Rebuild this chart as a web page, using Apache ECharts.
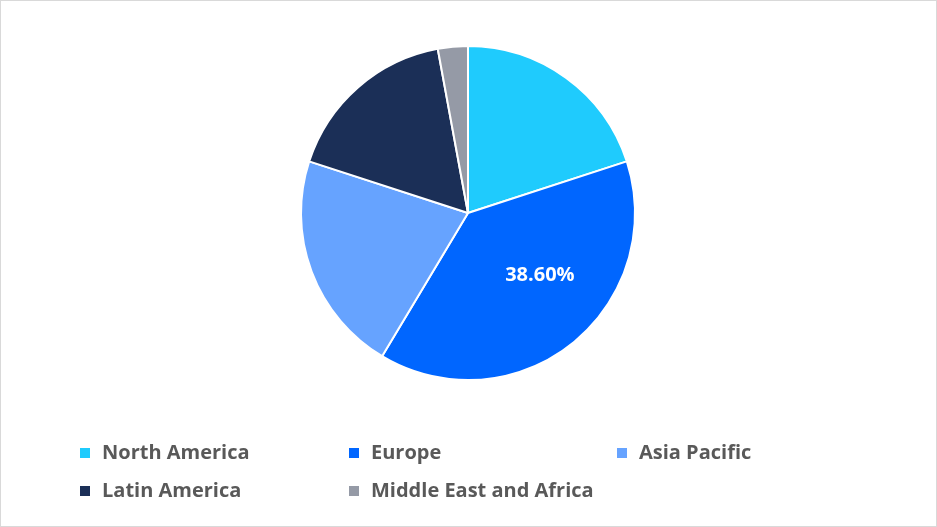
<!DOCTYPE html>
<html>
<head>
<meta charset="utf-8">
<script src="https://cdn.jsdelivr.net/npm/echarts@6/dist/echarts.min.js"></script>
<style>
html,body{margin:0;padding:0;background:#fff;}
#c{width:935px;height:525px;border:1px solid #D9D9D9;}
</style>
</head>
<body>
<div id="c"></div>
<script>
const categories = ["North America", "Europe", "Asia Pacific", "Latin America", "Middle East and Africa"];
const shares = [20.0, 38.6, 21.4, 17.1, 2.9];
const colors = ["#1FCBFD", "#0066FF", "#66A3FF", "#1B2F57", "#959AA6"];
const labeled = ["Europe"];

const FONT = '"Open Sans", "DejaVu Sans", sans-serif';
const chart = echarts.init(document.getElementById('c'));
const legendPos = [[77, 442], [346, 442], [614, 442], [77, 480], [346, 480]];
const legends = categories.map((name, i) => ({
  data: [name],
  left: legendPos[i][0],
  top: legendPos[i][1],
  padding: 0,
  orient: 'horizontal',
  icon: 'rect',
  itemWidth: 12,
  itemHeight: 12,
  textStyle: {fontFamily: FONT, fontWeight: 'bold', fontSize: 20, color: '#595959', padding: [0,0,0,6]},
  selectedMode: false
}));
chart.setOption({
  animation: false,
  color: colors,
  legend: legends,
  series: [{
    type: 'pie',
    center: [467, 212],
    radius: 167,
    startAngle: 90,
    clockwise: true,
    itemStyle: {borderColor: '#fff', borderWidth: 2},
    labelLine: {show: false},
    data: categories.map((name, i) => ({
      name: name,
      value: shares[i],
      label: {
        show: labeled.includes(name),
        position: 'inside',
        offset: [18, -5],
        formatter: v => v.value.toFixed(2) + '%',
        color: '#fff',
        fontFamily: FONT,
        fontWeight: 'bold',
        fontSize: 20
      }
    }))
  }]
});
</script>
</body>
</html>
